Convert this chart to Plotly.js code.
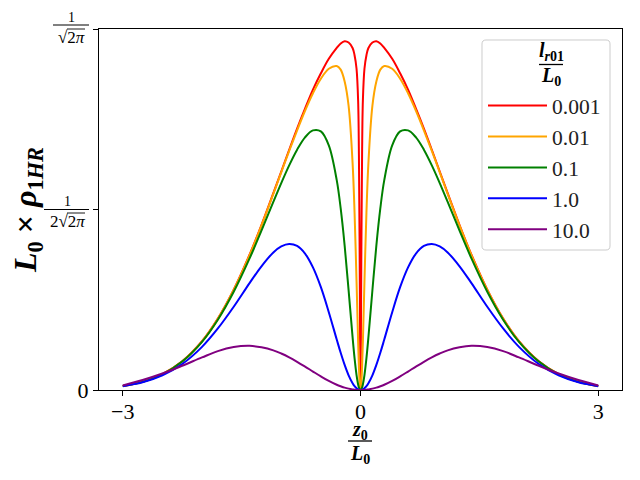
<!DOCTYPE html>
<html>
<head>
<meta charset="utf-8">
<script src="https://cdn.plot.ly/plotly-3.0.1.min.js"></script>
<style>html,body{margin:0;padding:0;background:#fff;}#chart{width:640px;height:480px;}</style>
</head>
<body>
<div id="chart"></div>
<script>
// ---- data ----
const z = [-3, -2.75, -2.5, -2.25, -2, -1.8, -1.6, -1.4, -1.25, -1.1, -1, -0.9, -0.8, -0.7, -0.6, -0.5, -0.4, -0.3, -0.25, -0.2, -0.15, -0.1, -0.075, -0.05, -0.03, -0.02, -0.01,
  0, 0.01, 0.02, 0.03, 0.05, 0.075, 0.1, 0.15, 0.2, 0.25, 0.3, 0.4, 0.5, 0.6, 0.7, 0.8, 0.9, 1, 1.1, 1.25, 1.4, 1.6, 1.8, 2, 2.25, 2.5, 2.75, 3];

const rho_0001 = [0.0044, 0.0091, 0.0175, 0.0317, 0.0539, 0.0789, 0.1108, 0.1495, 0.1823, 0.2175, 0.2415, 0.2655, 0.289, 0.311, 0.332, 0.350, 0.366, 0.378, 0.383, 0.3855, 0.384, 0.378, 0.37, 0.355, 0.32, 0.26, 0.14,
  0, 0.14, 0.26, 0.32, 0.355, 0.37, 0.378, 0.384, 0.3855, 0.383, 0.378, 0.366, 0.350, 0.332, 0.311, 0.289, 0.2655, 0.2415, 0.2175, 0.1823, 0.1495, 0.1108, 0.0789, 0.0539, 0.0317, 0.0175, 0.0091, 0.0044];

const rho_001 = [0.0044, 0.0091, 0.0175, 0.0316, 0.0538, 0.0787, 0.1105, 0.1491, 0.1818, 0.2168, 0.2406, 0.2642, 0.287, 0.3086, 0.328, 0.344, 0.355, 0.358, 0.354, 0.341, 0.314, 0.251, 0.196, 0.120, 0.053, 0.026, 0.0068,
  0, 0.0068, 0.026, 0.053, 0.120, 0.196, 0.251, 0.314, 0.341, 0.354, 0.358, 0.355, 0.344, 0.328, 0.3086, 0.287, 0.2642, 0.2406, 0.2168, 0.1818, 0.1491, 0.1105, 0.0787, 0.0538, 0.0316, 0.0175, 0.0091, 0.0044];

const rho_01 = [0.0044, 0.0090, 0.0173, 0.0314, 0.0532, 0.0776, 0.1085, 0.1454, 0.1761, 0.2079, 0.2287, 0.2483, 0.2656, 0.2792, 0.2869, 0.2858, 0.2703, 0.2319, 0.2006, 0.1596, 0.110, 0.0584, 0.0352, 0.0165, 0.0061, 0.0027, 0.0007,
  0, 0.0007, 0.0027, 0.0061, 0.0165, 0.0352, 0.0584, 0.110, 0.1596, 0.2006, 0.2319, 0.2703, 0.2858, 0.2869, 0.2792, 0.2656, 0.2483, 0.2287, 0.2079, 0.1761, 0.1454, 0.1085, 0.0776, 0.0532, 0.0314, 0.0173, 0.0090, 0.0044];

const rho_1 = [0.0042, 0.0085, 0.0161, 0.0287, 0.0477, 0.0680, 0.0920, 0.1181, 0.1367, 0.1520, 0.1587, 0.1614, 0.1592, 0.1508, 0.1355, 0.1136, 0.0860, 0.0558, 0.0411, 0.0277, 0.0162, 0.0074, 0.0042, 0.0019, 0.0007, 0.0003, 0.0001,
  0, 0.0001, 0.0003, 0.0007, 0.0019, 0.0042, 0.0074, 0.0162, 0.0277, 0.0411, 0.0558, 0.0860, 0.1136, 0.1355, 0.1508, 0.1592, 0.1614, 0.1587, 0.1520, 0.1367, 0.1181, 0.0920, 0.0680, 0.0477, 0.0287, 0.0161, 0.0085, 0.0042];

const rho_10 = [0.0050, 0.0110, 0.0182, 0.0268, 0.0360, 0.0430, 0.0475, 0.0488, 0.0472, 0.0438, 0.0403, 0.0361, 0.0312, 0.0259, 0.0204, 0.0150, 0.0100, 0.0058, 0.0041, 0.0026, 0.0015, 0.0007, 0.0004, 0.0001, 0.0001, 0, 0,
  0, 0, 0, 0.0001, 0.0001, 0.0004, 0.0007, 0.0015, 0.0026, 0.0041, 0.0058, 0.0100, 0.0150, 0.0204, 0.0259, 0.0312, 0.0361, 0.0403, 0.0438, 0.0472, 0.0488, 0.0475, 0.0430, 0.0360, 0.0268, 0.0182, 0.0110, 0.0050];

const seriesNames = ['0.001', '0.01', '0.1', '1.0', '10.0'];
const seriesValues = [rho_0001, rho_001, rho_01, rho_1, rho_10];
const seriesColors = ['#ff0000', '#ffa500', '#008000', '#0000ff', '#800080'];

const xTickVals = [-3, 0, 3];
const xTickText = ['\u22123', '0', '3'];
const yTop = 1 / Math.sqrt(2 * Math.PI);
const yTickVals = [0, yTop / 2, yTop];

// ---- layout helpers (pixel -> paper) ----
const W = 640, H = 480;
const M = {l: 99, r: 18, t: 29, b: 90};
const PW = W - M.l - M.r, PH = H - M.t - M.b;
const px = v => (v - M.l) / PW;
const py = v => (H - M.b - v) / PH;

const SERIF = 'Liberation Serif, Times New Roman, serif';

const traces = seriesValues.map((vals, i) => ({
  type: 'scatter', mode: 'lines', x: z, y: vals, name: seriesNames[i],
  line: {color: seriesColors[i], width: 2, shape: 'spline', smoothing: 1}
}));

function txt(text, cx, cy, size, extra) {
  return Object.assign({text: text, xref: 'paper', yref: 'paper', x: px(cx), y: py(cy),
    xanchor: 'center', yanchor: 'middle', showarrow: false,
    font: {family: SERIF, size: size, color: '#000'}}, extra || {});
}
function hline(x0, x1, y, w) {
  return {type: 'line', xref: 'paper', yref: 'paper', x0: px(x0), x1: px(x1), y0: py(y), y1: py(y),
    line: {color: '#000', width: w || 1}};
}
function roundRect(x0, y0, x1, y1, r) {
  const X = v => px(v).toFixed(5), Y = v => py(v).toFixed(5);
  const d = 'M' + X(x0 + r) + ',' + Y(y0) + ' L' + X(x1 - r) + ',' + Y(y0) +
    ' Q' + X(x1) + ',' + Y(y0) + ' ' + X(x1) + ',' + Y(y0 + r) +
    ' L' + X(x1) + ',' + Y(y1 - r) +
    ' Q' + X(x1) + ',' + Y(y1) + ' ' + X(x1 - r) + ',' + Y(y1) +
    ' L' + X(x0 + r) + ',' + Y(y1) +
    ' Q' + X(x0) + ',' + Y(y1) + ' ' + X(x0) + ',' + Y(y1 - r) +
    ' L' + X(x0) + ',' + Y(y0 + r) +
    ' Q' + X(x0) + ',' + Y(y0) + ' ' + X(x0 + r) + ',' + Y(y0) + ' Z';
  return {type: 'path', xref: 'paper', yref: 'paper', path: d, layer: 'above',
    fillcolor: 'rgba(255,255,255,0.8)', line: {color: '#cccccc', width: 1}};
}

const annotations = [
  // y tick fractions
  txt('1', 71, 17, 14),
  txt('\u221A2<i>\u03C0</i>', 71, 37, 17),
  txt('1', 67, 201, 14),
  txt('2\u221A2<i>\u03C0</i>', 67, 221, 17),
  // x-axis title
  txt('<b><i>z</i><sub>0</sub></b>', 360, 430, 20),
  txt('<b><i>L</i><sub>0</sub></b>', 360, 454, 20),
  // y-axis title
  txt('<b><i>L</i><sub>0</sub> \u00D7 <i>\u03C1</i><sub>1<i>HR</i></sub></b>', 27, 210, 32, {textangle: -90}),
  // legend title
  txt('<b><i>l</i><sub><i>r</i>01</sub></b>', 551, 52, 20),
  txt('<b><i>L</i><sub>0</sub></b>', 551, 77, 20),
];

const shapes = [
  hline(53, 89, 25, 1),
  hline(67, 85, 29, 0.9),
  hline(44, 89, 209.5, 1),
  hline(67, 85, 213, 0.9),
  hline(348, 372, 441, 1.3),
  roundRect(482, 40, 610, 250, 4),
  hline(539, 563, 64.5, 1.3),
];

const layout = {
  width: W, height: H,
  margin: M,
  paper_bgcolor: '#fff', plot_bgcolor: '#fff',
  font: {family: SERIF, size: 22, color: '#000'},
  showlegend: true,
  legend: {
    x: px(483), y: py(85), xanchor: 'left', yanchor: 'top',
    bgcolor: 'rgba(0,0,0,0)', borderwidth: 0,
    itemwidth: 59, tracegroupgap: 0,
    font: {family: SERIF, size: 21.5, color: '#222'}
  },
  xaxis: {
    range: [-3.3, 3.3], tickmode: 'array', tickvals: xTickVals, ticktext: xTickText,
    showline: true, mirror: true, linecolor: '#000', linewidth: 1,
    ticks: 'outside', ticklen: 5, tickwidth: 1, tickcolor: '#000', ticklabelstandoff: -3,
    showgrid: false, zeroline: false, tickfont: {family: SERIF, size: 22}
  },
  yaxis: {
    range: [0, yTop], tickmode: 'array', tickvals: yTickVals, ticktext: ['0', '', ''],
    showline: true, mirror: true, linecolor: '#000', linewidth: 1,
    ticks: 'outside', ticklen: 5, tickwidth: 1, tickcolor: '#000',
    showgrid: false, zeroline: false, tickfont: {family: SERIF, size: 22}
  },
  annotations: annotations,
  shapes: shapes
};

Plotly.newPlot('chart', traces, layout, {displayModeBar: false, staticPlot: true});
</script>
</body>
</html>
